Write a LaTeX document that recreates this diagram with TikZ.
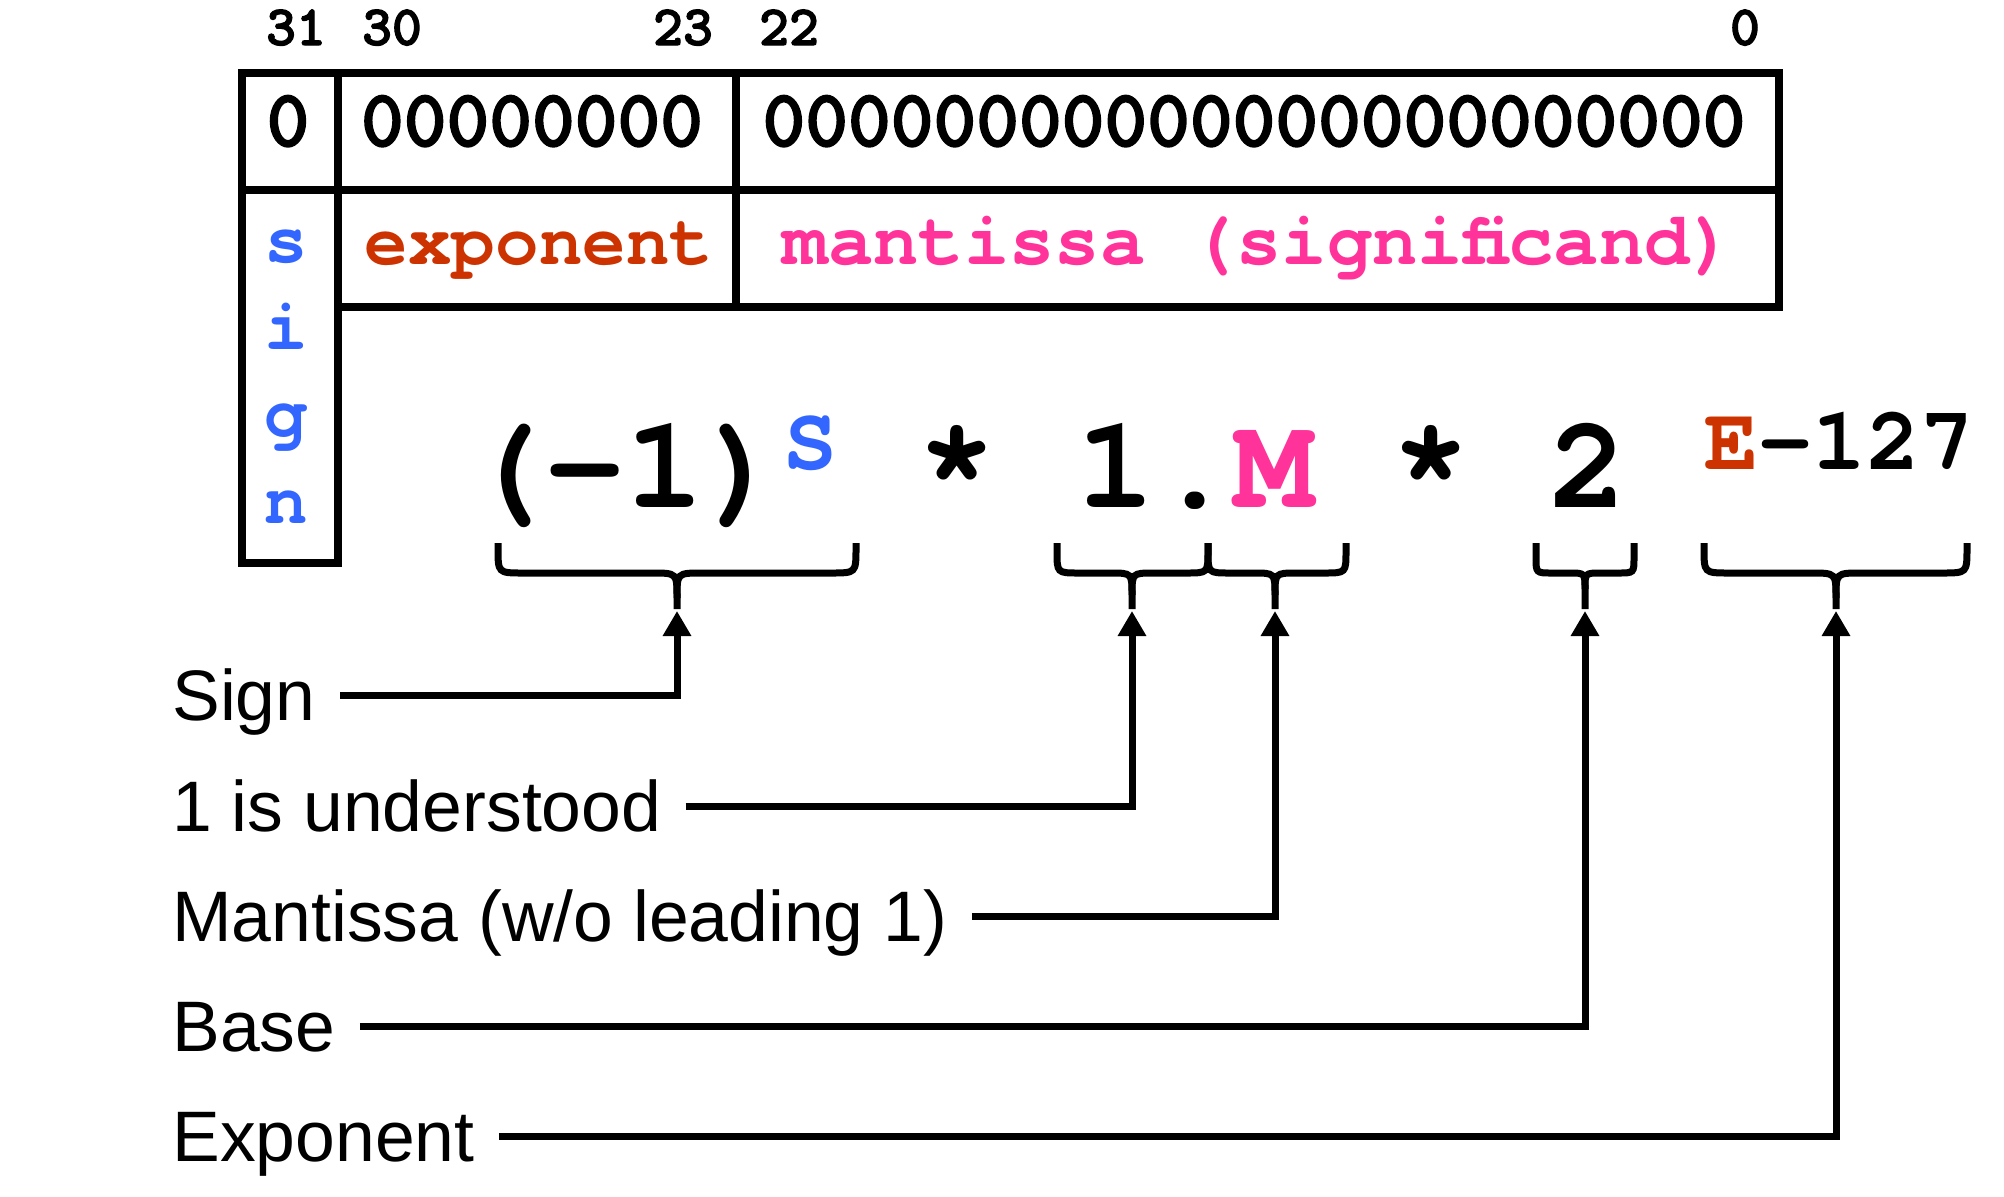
\documentclass[tikz,border=0pt]{standalone}
\usepackage{fontspec}
\setmainfont{Liberation Sans}
\newfontfamily\courbold{texgyrecursor-bold.otf}
\newfontfamily\darkmono{lmmonolt10-bold.otf}[FakeBold=2]
\usetikzlibrary{arrows.meta}

\definecolor{signblue}{HTML}{3366FF}
\definecolor{expored}{HTML}{CC3300}
\definecolor{mantpink}{HTML}{FF3399}

\tikzset{
  bitnum/.style={anchor=base, inner sep=0pt, font=\darkmono\fontsize{28.5}{28.5}\selectfont},
  bits/.style={anchor=base, inner sep=0pt, font=\darkmono\fontsize{40.7}{40.7}\selectfont},
  field/.style={anchor=base, inner sep=0pt, font=\courbold\fontsize{36.3}{36.3}\selectfont},
  formula/.style={anchor=base, inner sep=0pt, font=\courbold\fontsize{66}{66}\selectfont},
  power/.style={anchor=base, inner sep=0pt, font=\courbold\fontsize{45}{45}\selectfont},
  partname/.style={anchor=west, inner sep=0pt, text height=25.6pt, text depth=0pt,
                   font=\fontsize{35.75}{40}\selectfont},
  tablerule/.style={line width=4pt, line join=miter},
  brace/.style={line width=3.5pt, line cap=butt},
  conn/.style={line width=3.5pt, line join=miter, -{Triangle[length=12.5pt,width=13.5pt]}},
}

% under-brace: left end, tip, right end, corner radius
\newcommand\Bracepath[4]{%
  \draw[brace] (#1,543) -- (#1,573-#4) .. controls (#1,573) and (#1,573) .. (#1+#4,573)
     -- (#2-#4,573) .. controls (#2,573) and (#2,573) .. (#2,573+#4) -- (#2,609);
  \draw[brace] (#3,543) -- (#3,573-#4) .. controls (#3,573) and (#3,573) .. (#3-#4,573)
     -- (#2+#4,573) .. controls (#2,573) and (#2,573) .. (#2,573+#4);
}

\begin{document}
\begin{tikzpicture}[x=0.5pt, y=-0.5pt]
  \useasboundingbox (0,0) rectangle (2004,1196);

  % bit positions
  \node[bitnum] (b31) at (296,45) {31};
  \node[bitnum] (b30) at (392,45) {30};
  \node[bitnum] (b23) at (683,45) {23};
  \node[bitnum] (b22) at (789,45) {22};
  \node[bitnum] (b0)  at (1745,45) {0};

  % register layout: top rows plus the tall sign column
  \draw[tablerule] (338,307) -- (1779,307) -- (1779,73) -- (242,73) -- (242,563)
                   -- (338,563) -- cycle;
  \draw[tablerule] (338,73) -- (338,307);
  \draw[tablerule] (242,190) -- (1779,190);
  \draw[tablerule] (735.5,73) -- (735.5,307);

  % bit contents
  \node[bits] (zs) at (288,146) {0};
  \node[bits] (ze) at (532,146) {00000000};
  \node[bits] (zm) at (1254,146) {00000000000000000000000};

  % field names
  \node[field, text=signblue] (fs) at (286,262) {s};
  \node[field, text=signblue] (fi) at (286,349) {i};
  \node[field, text=signblue] (fg) at (286,436) {g};
  \node[field, text=signblue] (fn) at (286,523) {n};
  \node[field, text=expored]  (fe) at (539,264) {exponent};
  \node[field, text=mantpink, font=\courbold\fontsize{37.8}{37.8}\selectfont]
       (fm) at (1259,264) {mantissa (significand)};

  % value formula
  \node[formula] (neg)   at (625,507) {(-1)};
  \node[power, text=signblue] (sexp) at (810,469) {S};
  \node[formula] (mul1)  at (957,507) {*};
  \node[formula] (signif) at (1195,507) {1.\textcolor{mantpink}{M}};
  \node[formula] (mul2)  at (1431,507) {*};
  \node[formula] (base)  at (1588,507) {2};
  \node[power] (eexp) at (1839,469) {\textcolor{expored}{E}-127};

  % braces under the formula
  \Bracepath{498}{677}{856}{25}
  \Bracepath{1057}{1132}{1208}{22}
  \Bracepath{1208}{1275}{1346}{22}
  \Bracepath{1536}{1585}{1634}{16}
  \Bracepath{1704}{1836}{1967}{25}

  \coordinate (tipS) at (677,611);
  \coordinate (tipO) at (1132,611);
  \coordinate (tipM) at (1275,611);
  \coordinate (tipB) at (1585,611);
  \coordinate (tipE) at (1836,611);

  % part names
  \node[partname] (lsign) at (172,695)  {Sign};
  \node[partname] (lone)  at (172,806)  {1 is understood};
  \node[partname] (lmant) at (172,916)  {Mantissa (w/o leading 1)};
  \node[partname] (lbase) at (172,1026) {Base};
  \node[partname] (lexp)  at (172,1136) {Exponent};

  % connectors
  \draw[conn] ([xshift=12pt]lsign.east) -| (tipS);
  \draw[conn] ([xshift=12pt]lone.east)  -| (tipO);
  \draw[conn] ([xshift=12pt]lmant.east) -| (tipM);
  \draw[conn] ([xshift=12pt]lbase.east) -| (tipB);
  \draw[conn] ([xshift=12pt]lexp.east)  -| (tipE);
\end{tikzpicture}
\end{document}
